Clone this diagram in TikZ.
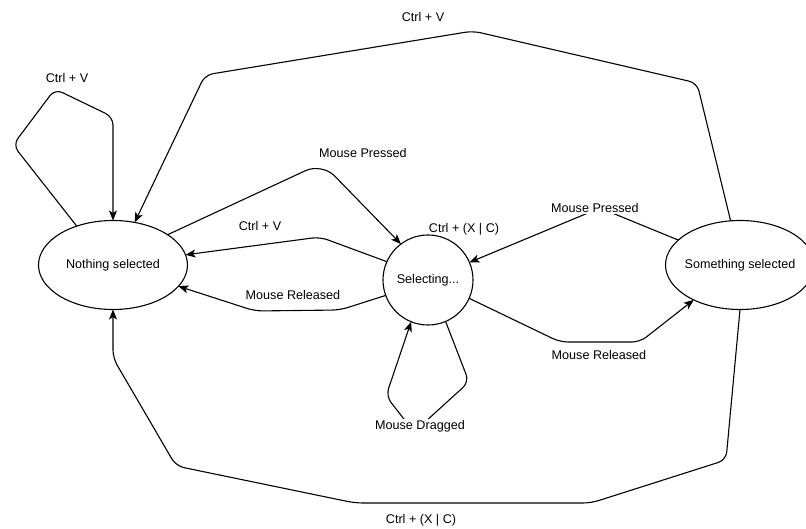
\documentclass[tikz,border=0pt]{standalone}
\usepackage{fontspec}
\setmainfont{Liberation Sans}
\usetikzlibrary{arrows.meta,shapes.geometric}
\tikzset{
  state/.style={draw, ellipse, line width=1.1pt, inner sep=0pt, outer sep=0pt, minimum width=149pt, minimum height=89pt},
  roundstate/.style={draw, circle, line width=1.1pt, inner sep=0pt, outer sep=0pt, minimum size=90pt},
  edge/.style={draw, line width=1.1pt, rounded corners=8pt, -{Stealth[length=10pt,width=8pt,inset=2.5pt]}},
  lbl/.style={inner sep=1pt},
  lblw/.style={inner sep=1.5pt, fill=white},
}
\begin{document}
\begin{tikzpicture}[x=1pt,y=-1pt,font=\fontsize{12.6}{15}\selectfont]
\useasboundingbox (0,0) rectangle (806,529);
\fill[white] (0,0) rectangle (806,529);
\clip (0,0) rectangle (806,529);

\node[state] (N) at (113,265) {\makebox[60pt]{Nothing selected}};
\node[roundstate] (S) at (428,280) {Selecting...};
\node[state] (M) at (740,265) {\makebox[60pt]{Something selected}};

% edges
\draw[edge] (M.102) -- (697,83) -- (473,31) -- (205,75) -- (N.63);
\draw[edge] (N.133) -- (13,145) -- (55,89) -- (113,117) -- (N.north);
\draw[edge, rounded corners=18pt] (N.29) -- (322,163) -- (S.127);
\draw[edge] (S.156) -- (320,237) -- (N.8);
\draw[edge] (S.200) -- (340,310) -- (255,311) -- (N.-18);
\draw[edge] (M.158) -- (600,208) -- (S.23);
\draw[edge] (S.-24) -- (560,342) -- (640,342) -- (M.217);
\draw[edge] (S.-67) -- (469,382) -- (414,432) -- (386,396) -- (S.248);
\draw[edge] (M.south) -- (726,460) -- (591,503) -- (355,503) -- (176,466) -- (113,358) -- (N.south);

% labels
\node[lbl] (lTop) at (423,17) {Ctrl + V};
\node[lbl] (lLoop) at (67,78) {Ctrl + V};
\node[lbl] (lMP1) at (363,153) {Mouse Pressed};
\node[lbl] (lCV) at (260,226) {Ctrl + V};
\node[lbl] (lMR1) at (293,295) {Mouse Released};
\node[lbl] (lCXC) at (464,229) {Ctrl + (X | C)};
\node[lblw] (lMP2) at (595,208) {Mouse Pressed};
\node[lbl] (lMR2) at (599,355) {Mouse Released};
\node[lblw] (lMD) at (420,426) {Mouse Dragged};
\node[lbl] (lBot) at (421,520) {Ctrl + (X | C)};
\end{tikzpicture}
\end{document}
